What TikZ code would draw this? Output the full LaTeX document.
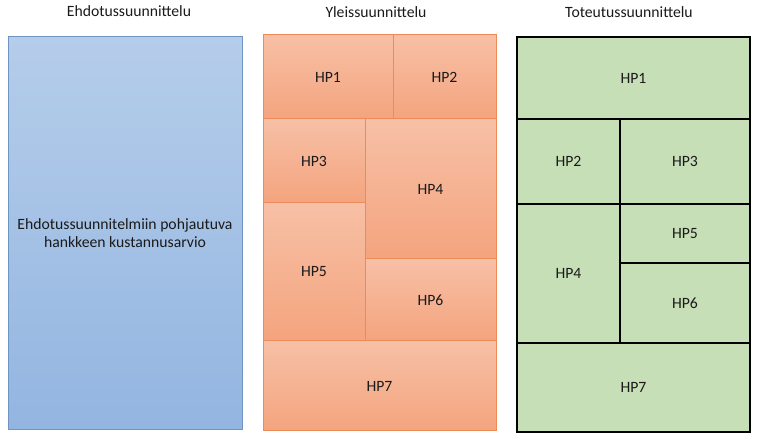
\documentclass[tikz,border=0pt]{standalone}
\usepackage{fontspec}
\setmainfont{Carlito}
\usetikzlibrary{positioning}
\definecolor{bluetop}{HTML}{B5CDEA}
\definecolor{bluebot}{HTML}{93B5E1}
\definecolor{blueedge}{HTML}{7094C2}
\definecolor{ortop}{HTML}{F7C0A6}
\definecolor{orbot}{HTML}{F4A47E}
\definecolor{oredge}{HTML}{EB8B58}
\definecolor{grfill}{HTML}{C6DFB6}
\definecolor{txt}{HTML}{1A1A1A}
\tikzset{
  title/.style={font=\fontsize{15.7}{18}\selectfont, text=txt, inner sep=0},
  cell/.style={anchor=north west, inner sep=0, outer sep=0, font=\fontsize{15.7}{18}\selectfont, text=txt},
  bluebox/.style={cell, top color=bluetop, bottom color=bluebot, draw=blueedge, line width=1pt, align=center},
  ocell/.style={cell, top color=ortop, bottom color=orbot, draw=oredge, line width=1pt},
  gcell/.style={cell, fill=grfill, draw=black, line width=2.5pt},
}
\begin{document}
\begin{tikzpicture}[x=1pt,y=-1pt]
\useasboundingbox (0,0) rectangle (764,443);
% titles
\node[title] (t1) at (129,11) {Ehdotussuunnittelu};
\node[title] (t2) at (376,12) {Yleissuunnittelu};
\node[title] (t3) at (629,12) {Toteutussuunnittelu};
% blue
\node[bluebox, minimum width=234, minimum height=393] (b) at (8,37) {Ehdotussuunnitelmiin pohjautuva\\hankkeen kustannusarvio};
% orange
\node[ocell, minimum width=130, minimum height=84] (o1) at (263,35) {HP1};
\node[ocell, minimum width=103, minimum height=84] (o2) at (393,35) {HP2};
\node[ocell, minimum width=102, minimum height=84] (o3) at (263,119) {HP3};
\node[ocell, minimum width=131, minimum height=140] (o4) at (365,119) {HP4};
\node[ocell, minimum width=102, minimum height=138] (o5) at (263,203) {HP5};
\node[ocell, minimum width=131, minimum height=82] (o6) at (365,259) {HP6};
\node[ocell, minimum width=233, minimum height=90] (o7) at (263,341) {HP7};
% green
\node[gcell, minimum width=233, minimum height=82] (g1) at (517,37) {HP1};
\node[gcell, minimum width=103, minimum height=85] (g2) at (517,119) {HP2};
\node[gcell, minimum width=130, minimum height=85] (g3) at (620,119) {HP3};
\node[gcell, minimum width=103, minimum height=139] (g4) at (517,204) {HP4};
\node[gcell, minimum width=130, minimum height=59] (g5) at (620,204) {HP5};
\node[gcell, minimum width=130, minimum height=80] (g6) at (620,263) {HP6};
\node[gcell, minimum width=233, minimum height=89] (g7) at (517,343) {HP7};
\end{tikzpicture}
\end{document}
